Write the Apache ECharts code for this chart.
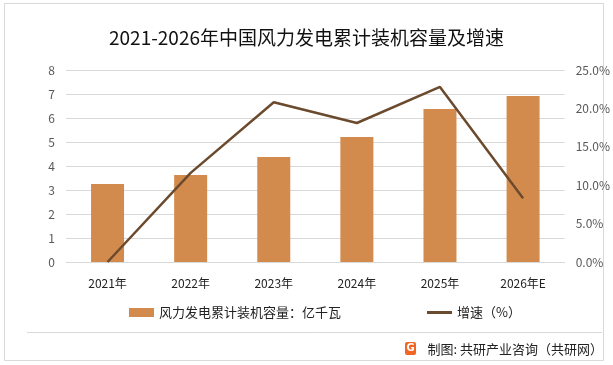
<!DOCTYPE html>
<html><head><meta charset="utf-8">
<script src="https://cdn.jsdelivr.net/npm/echarts@6/dist/echarts.min.js"></script>
<style>html,body{margin:0;padding:0;background:#fff}#c{width:613px;height:365px}</style>
</head><body><div id="c"></div>
<script>
const categories = ['2021年','2022年','2023年','2024年','2025年','2026年E'];
const capacity = [3.25, 3.63, 4.38, 5.21, 6.38, 6.92];
const growth = [0.0, 11.6, 20.8, 18.1, 22.8, 8.3];
const leftTicks = [0, 8, 1];
const rightTicks = [0, 25, 5];
const barName = '风力发电累计装机容量：亿千瓦';
const lineName = '增速（%）';
const titleText = '2021-2026年中国风力发电累计装机容量及增速';
const sourceText = '制图: 共研产业咨询（共研网）';

const FONT = '"Noto Sans CJK SC","Noto Sans",sans-serif';
const chart = echarts.init(document.getElementById('c'));
chart.setOption({
  animation: false,
  backgroundColor: '#fff',
  textStyle: { fontFamily: FONT },
  title: {
    text: titleText, left: 'center', top: 23,
    textStyle: { fontSize: 19, fontWeight: 'normal', color: '#111', fontFamily: FONT }
  },
  grid: { left: 66, right: 46, top: 70, bottom: 103 },
  legend: {
    left: 124, top: 301, itemGap: 86, itemWidth: 25, itemHeight: 9,
    textStyle: { fontSize: 13, color: '#222', fontFamily: FONT },
    data: [{ name: barName, icon: 'rect' },
           { name: lineName, icon: 'path://M0,0h25v3h-25z' }]
  },
  xAxis: {
    type: 'category', data: categories,
    axisLine: { lineStyle: { color: '#d9d9d9' } },
    axisTick: { show: false },
    axisLabel: { color: '#222', fontSize: 12, margin: 15 }
  },
  yAxis: [
    { type: 'value', min: leftTicks[0], max: leftTicks[1], interval: leftTicks[2],
      axisLine: { show: false }, axisTick: { show: false },
      splitLine: { lineStyle: { color: '#d9d9d9' } },
      axisLabel: { color: '#595959', fontSize: 12, margin: 11 } },
    { type: 'value', min: rightTicks[0], max: rightTicks[1], interval: rightTicks[2],
      axisLine: { show: false }, axisTick: { show: false }, splitLine: { show: false },
      axisLabel: { color: '#595959', fontSize: 12, margin: 11,
        formatter: v => v.toFixed(1) + '%' } }
  ],
  series: [
    { name: barName, type: 'bar', data: capacity, barWidth: 33,
      itemStyle: { color: '#D38B4D' } },
    { name: lineName, type: 'line', yAxisIndex: 1, data: growth,
      symbol: 'none', lineStyle: { color: '#6B4A2E', width: 2.5 },
      itemStyle: { color: '#6B4A2E' } }
  ],
  graphic: [
    { type: 'rect', shape: { x: 4.5, y: 3.5, width: 599, height: 357 },
      style: { fill: 'none', stroke: '#d9d9d9', lineWidth: 1 }, silent: true },
    { type: 'line', shape: { x1: 27, y1: 332.5, x2: 602, y2: 332.5 },
      style: { stroke: '#d9d9d9', lineWidth: 1 } },
    { type: 'rect', shape: { x: 405, y: 342, width: 11, height: 13, r: 2 },
      style: { fill: '#F26522' } },
    { type: 'text', x: 410.5, y: 348.5,
      style: { text: 'G', fill: '#fff', font: 'bold 10px "DejaVu Sans"', align: 'center', verticalAlign: 'middle' } },
    { type: 'text', x: 603, y: 349,
      style: { text: sourceText, fill: '#222', font: '13px ' + FONT, align: 'right', verticalAlign: 'middle' } }
  ]
});
</script></body></html>
